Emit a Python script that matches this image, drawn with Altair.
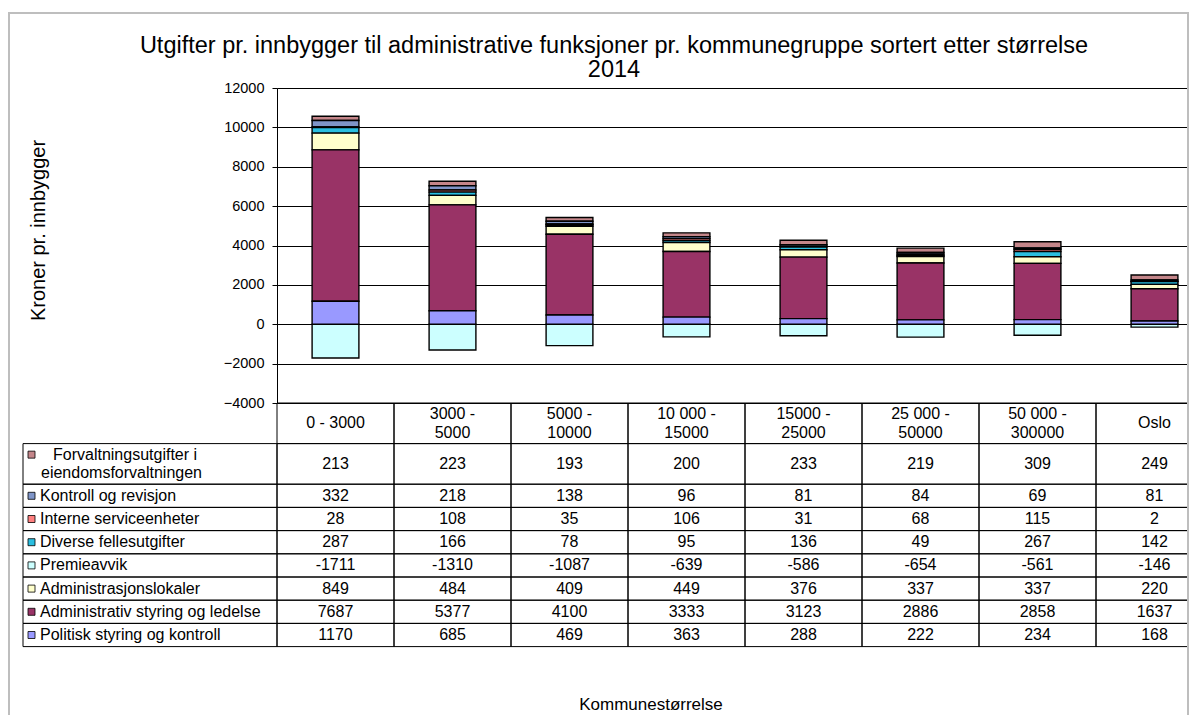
import altair as alt
import pandas as pd

# ---------------- data ----------------
categories = ["0 - 3000", "3000 - 5000", "5000 - 10000", "10 000 - 15000",
              "15000 - 25000", "25 000 - 50000", "50 000 - 300000", "Oslo"]
header_labels = ["0 - 3000", "3000 -\n5000", "5000 -\n10000", "10 000 -\n15000",
                 "15000 -\n25000", "25 000 -\n50000", "50 000 -\n300000", "Oslo"]

series_names = ["Forvaltningsutgifter i eiendomsforvaltningen",
                "Kontroll og revisjon",
                "Interne serviceenheter",
                "Diverse fellesutgifter",
                "Premieavvik",
                "Administrasjonslokaler",
                "Administrativ styring og ledelse",
                "Politisk styring og kontroll"]
series_labels = ["Forvaltningsutgifter i\neiendomsforvaltningen",
                 "Kontroll og revisjon",
                 "Interne serviceenheter",
                 "Diverse fellesutgifter",
                 "Premieavvik",
                 "Administrasjonslokaler",
                 "Administrativ styring og ledelse",
                 "Politisk styring og kontroll"]

forvaltning = [213, 223, 193, 200, 233, 219, 309, 249]
kontroll = [332, 218, 138, 96, 81, 84, 69, 81]
interne = [28, 108, 35, 106, 31, 68, 115, 2]
diverse = [287, 166, 78, 95, 136, 49, 267, 142]
premieavvik = [-1711, -1310, -1087, -639, -586, -654, -561, -146]
lokaler = [849, 484, 409, 449, 376, 337, 337, 220]
adm_styring = [7687, 5377, 4100, 3333, 3123, 2886, 2858, 1637]
politisk = [1170, 685, 469, 363, 288, 222, 234, 168]

series_values = [forvaltning, kontroll, interne, diverse, premieavvik,
                 lokaler, adm_styring, politisk]
stack_order = [7, 6, 5, 4, 3, 2, 1, 0]  # bottom of stack = 0
colors = ["#C4868A", "#7F95C8", "#FF8080", "#2ABEE0", "#CCFFFF",
          "#FFFFCC", "#993366", "#9999FF"]

y_ticks = [-4000, -2000, 0, 2000, 4000, 6000, 8000, 10000, 12000]

title_text = ("Utgifter pr. innbygger til administrative funksjoner pr. kommunegruppe sortert etter størrelse"
              "\n2014")
x_title_text = "Kommunestørrelse"
y_title_text = "Kroner pr. innbygger"

# ---------------- layout ----------------
FONT = "Liberation Sans"
W, H = 911, 315
X_RANGE = [0, 936]          # 8 data-table columns, last partly hidden by frame
ROW_UNIT = 23.2
LINE_H = 18.5
FS_TABLE = 16
FS_AXIS = 14.5

# table rows (header + one per series), height from the number of text lines
row_lines = [2] + [s.count("\n") + 1 for s in series_labels]
row_h = [1 + 0.75 * (n - 1) for n in row_lines]
tops, acc = [], 0.0
for h in row_h:
    tops.append(acc)
    acc += h
TOTAL_UNITS = acc
bots = [t + h for t, h in zip(tops, row_h)]
LINE_UNITS = LINE_H / ROW_UNIT


def text_anchor(top, bot, text):
    """y (in row units) of the first line so that the text block is centred."""
    n = text.count("\n") + 1
    return (top + bot) / 2 - (n - 1) * LINE_UNITS / 2


# bar data
bar_rows = []
for name, vals, o in zip(series_names, series_values, stack_order):
    for c, v in zip(categories, vals):
        bar_rows.append({"cat": c, "series": name, "value": v, "order": o})
bar_df = pd.DataFrame(bar_rows)

# table cells
cell_rows = []
for c, hl in zip(categories, header_labels):
    cell_rows.append({"cat": c, "text": hl, "top": tops[0], "bot": bots[0],
                      "ty": text_anchor(tops[0], bots[0], hl)})
for i, vals in enumerate(series_values):
    r = i + 1
    for c, v in zip(categories, vals):
        cell_rows.append({"cat": c, "text": str(v), "top": tops[r], "bot": bots[r],
                          "ty": text_anchor(tops[r], bots[r], str(v))})
cell_df = pd.DataFrame(cell_rows)

label_rows = []
for i, (name, lab) in enumerate(zip(series_names, series_labels)):
    r = i + 1
    lines = lab.split("\n")
    ty = text_anchor(tops[r], bots[r], lab)
    label_rows.append({"series": name, "first": lines[0], "rest": "\n".join(lines[1:]),
                       "multi": len(lines) > 1, "top": tops[r], "bot": bots[r],
                       "ty": ty, "ty2": ty + LINE_UNITS, "sw": ty})
label_df = pd.DataFrame(label_rows)

color_scale = alt.Scale(domain=series_names, range=colors)
x_bar_scale = alt.Scale(domain=categories, range=X_RANGE, paddingInner=0.6, paddingOuter=0.3)
x_tab_scale = alt.Scale(domain=categories, range=X_RANGE, paddingInner=0, paddingOuter=0)
y_tab_scale = alt.Scale(domain=[0, TOTAL_UNITS], range=[H, H + TOTAL_UNITS * ROW_UNIT],
                        nice=False, zero=False)

bars = alt.Chart(bar_df).mark_bar(stroke="black", strokeWidth=1.4).encode(
    x=alt.X("cat:N", sort=categories, scale=x_bar_scale, axis=None),
    y=alt.Y("value:Q", stack="zero",
            scale=alt.Scale(domain=[-4000, 12000], nice=False),
            axis=alt.Axis(values=y_ticks, title=y_title_text,
                          titleX=-239, titleY=142, titleBaseline="middle",
                          titleFontSize=20, titleFont=FONT, titleFontWeight="normal",
                          titleColor="black",
                          labelFont=FONT, labelFontSize=FS_AXIS, labelColor="black",
                          labelPadding=8, tickSize=5, tickColor="black",
                          domainColor="black", gridColor="black", gridWidth=1,
                          format="d")),
    color=alt.Color("series:N", scale=color_scale, legend=None),
    order=alt.Order("order:Q"),
)

cells = alt.Chart(cell_df).mark_rect(fillOpacity=0, stroke="black", strokeWidth=1).encode(
    x=alt.X("cat:N", sort=categories, scale=x_tab_scale, axis=None),
    y=alt.Y("top:Q", scale=y_tab_scale, axis=None),
    y2="bot:Q",
)

cell_text = alt.Chart(cell_df).mark_text(font=FONT, fontSize=FS_TABLE, color="black",
                                         baseline="middle", lineBreak="\n", lineHeight=LINE_H).encode(
    x=alt.X("cat:N", sort=categories, scale=x_tab_scale, axis=None),
    y=alt.Y("ty:Q", scale=y_tab_scale, axis=None),
    text="text:N",
)

label_cells = alt.Chart(label_df).mark_rect(fillOpacity=0, stroke="black", strokeWidth=1).encode(
    x=alt.value(-254), x2=alt.value(0),
    y=alt.Y("top:Q", scale=y_tab_scale, axis=None),
    y2="bot:Q",
)

label_base = alt.Chart(label_df)
label_single = label_base.transform_filter("!datum.multi").mark_text(
    font=FONT, fontSize=FS_TABLE, color="black", align="left", baseline="middle").encode(
    x=alt.value(-237),
    y=alt.Y("ty:Q", scale=y_tab_scale, axis=None),
    text="first:N",
)
label_first = label_base.transform_filter("datum.multi").mark_text(
    font=FONT, fontSize=FS_TABLE, color="black", align="left", baseline="middle").encode(
    x=alt.value(-224),
    y=alt.Y("ty:Q", scale=y_tab_scale, axis=None),
    text="first:N",
)
label_rest = label_base.transform_filter("datum.multi").mark_text(
    font=FONT, fontSize=FS_TABLE, color="black", align="left", baseline="middle",
    lineBreak="\n", lineHeight=LINE_H).encode(
    x=alt.value(-236),
    y=alt.Y("ty2:Q", scale=y_tab_scale, axis=None),
    text="rest:N",
)

swatches = alt.Chart(label_df).mark_square(size=49, stroke="black", strokeWidth=0.8, opacity=1).encode(
    x=alt.value(-245.5),
    y=alt.Y("sw:Q", scale=y_tab_scale, axis=None),
    color=alt.Color("series:N", scale=color_scale, legend=None),
)

frame = alt.Chart(pd.DataFrame({"k": [0]})).mark_rect(fillOpacity=0, stroke="#BEBEBE", strokeWidth=2).encode(
    x=alt.value(-268), x2=alt.value(911), y=alt.value(-75), y2=alt.value(640),
)

title = alt.Chart(pd.DataFrame({"t": [title_text]})).mark_text(
    font=FONT, fontSize=23.5, color="black", baseline="middle", lineBreak="\n", lineHeight=24).encode(
    x=alt.value(337), y=alt.value(-42), text="t:N",
)

x_title = alt.Chart(pd.DataFrame({"t": [x_title_text]})).mark_text(
    font=FONT, fontSize=17, color="black", baseline="middle").encode(
    x=alt.value(374), y=alt.value(617), text="t:N",
)

chart = alt.layer(bars, cells, cell_text, label_cells, label_single, label_first, label_rest,
                  swatches, frame, title, x_title).resolve_scale(
    x="independent", y="independent"
).properties(
    width=W, height=H,
    autosize=alt.AutoSizeParams(type="none"),
    padding={"left": 269, "top": 80, "right": 1, "bottom": 707 - 80 - H},
).configure_view(stroke=None).configure(background="white")

chart.save("out.html", embed_options={"renderer": "svg", "actions": False})
